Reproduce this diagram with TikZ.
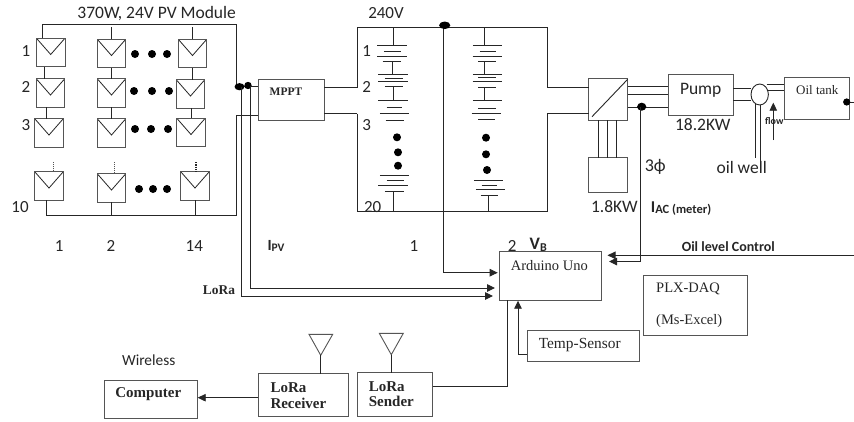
\documentclass[tikz,border=0pt]{standalone}
\usepackage{fontspec}
\setmainfont{Carlito}
\newfontfamily\srf{Liberation Serif}
\usetikzlibrary{arrows.meta,shapes.geometric}
\definecolor{ink}{HTML}{262626}
\definecolor{edge}{HTML}{555555}
\newcommand{\fs}[1]{\fontsize{#1}{#1}\selectfont}
\tikzset{
  wire/.style={draw=ink,line width=0.9pt},
  arr/.style={wire,-{Triangle[length=8pt,width=7.5pt]}},
  boxn/.style={draw=edge,line width=0.9pt,fill=white,inner sep=0pt,outer sep=0pt},
  module/.style={draw=edge,line width=0.8pt,inner sep=0pt,outer sep=0pt,minimum width=28.5pt,minimum height=28.5pt,
    path picture={\draw[draw=ink,line width=0.8pt] (path picture bounding box.north west) -- ([yshift=-2pt]path picture bounding box.center) -- (path picture bounding box.north east);}},
  lab/.style={text=ink,font=\fs{17.5},inner sep=0pt},
  lbl/.style={text=ink,font=\fs{17},inner sep=0pt},
  srfb/.style={text=ink,font=\srf\bfseries\fs{15},inner sep=0pt},
  srfn/.style={text=ink,font=\srf\fs{14.5},inner sep=0pt},
  bd/.style={text=ink,font=\bfseries\fs{14},inner sep=0pt},
  bigdot/.style={fill=black,draw=none},
}
\newcommand{\pl}[3]{\draw[wire] (#2,#1) -- (#3,#1);}
\newcommand{\st}[3]{\draw[wire] (#1,#2) -- (#1,#3);}
\newcommand{\dt}[2]{\fill[bigdot] (#1,#2) circle [radius=4pt];}
\begin{document}
\begin{tikzpicture}[x=1pt,y=-1pt]
\useasboundingbox (0,0) rectangle (854,421);
\fill[white] (0,0) rectangle (854,421);
% PV modules
\node[module] (m11) at (50.7,52.5) {};
\node[module] (m21) at (50.5,93) {};
\node[module] (m31) at (49,133) {};
\node[module] (m41) at (49,186) {};
\node[module] (m12) at (111.5,53.5) {};
\node[module] (m22) at (111.5,93) {};
\node[module] (m32) at (111.5,133) {};
\node[module] (m42) at (111.5,188) {};
\node[module] (m13) at (192.5,53.5) {};
\node[module] (m23) at (190.5,94) {};
\node[module] (m33) at (191,132.5) {};
\node[module] (m43) at (195,186) {};
% PV wiring
\coordinate (tl) at (42,24.5);
\coordinate (tr) at (236,24.5);
\coordinate (br) at (236,215);
\coordinate (bl) at (46,215);
\coordinate (jA) at (239.5,86.7);
\coordinate (jB) at (248,85.5);
\coordinate (pvlow) at (236,115);
\draw[wire] (tl |- m11.north) -- (tl) -- (tr) -- (tr |- jA) -- (jA);
\draw[wire] (pvlow) -- (br) -- (bl) -- (bl |- m41.south);
\draw[wire] (m12.north) -- ++(0,-12);
\draw[wire] (m13.north) -- ++(0,-12);
\draw[wire] ([xshift=-6pt]m11.south) -- ([xshift=-6pt]m11.south |- m21.north);
\draw[wire] ([xshift=-4.5pt]m21.south) -- ([xshift=-4.5pt]m21.south |- m31.north);
\draw[wire] (m12.south) -- (m22.north) (m22.south) -- (m32.north);
\draw[wire] (m13.south) -- (m13.south |- m23.north);
\draw[wire] (m23.south) ++(1.2,0) -- ++(0,10);
\draw[wire] (m42.south) -- (m42.south |- br);
\draw[wire] (m43.south) -- (m43.south |- br);
\draw[edge,line width=0.9pt,densely dotted] (53,162) -- (53,171);
\draw[edge,line width=0.9pt,densely dotted] (114,162) -- (114,172);
\draw[ink,line width=1.3pt,densely dotted] (196,162) -- (196,172);
\foreach \x/\y in {135/54,152/54,167/54,134/91,152/91,169/91,135/129,151/129,168/129,139/189,153/189,167/189}{\dt{\x}{\y}}
% Row and column labels
\node[lbl] (r1) at (26,50.7) {1};
\node[lbl] (r2) at (26,87.3) {2};
\node[lbl] (r3) at (26,124.7) {3};
\node[lbl] (r10) at (20,206.7) {10};
\node[lbl] (c1) at (59.3,246) {1};
\node[lbl] (c2) at (111,246) {2};
\node[lbl] (c14) at (194.3,246) {14};
\node[lab] (title) at (156.7,13.3) {370W, 24V PV Module};
% MPPT
\node[boxn,minimum width=66pt,minimum height=41pt] (mppt) at (291,99.5) {};
\node[srfb,font=\srf\bfseries\fs{11.5}] (mpptt) at (286,92) {MPPT};
\draw[wire] (jA) -- (mppt.west |- jA);
\draw[wire] (pvlow) -- (mppt.west |- pvlow);
\fill[bigdot] (jA) ellipse [x radius=5pt,y radius=3.6pt];
\fill[bigdot] (jB) circle [radius=3.7pt];
% Battery bank
\coordinate (btl) at (357.3,27.3);
\coordinate (btr) at (547.3,27.3);
\coordinate (bbl) at (357.3,211);
\coordinate (bbr) at (547.3,211);
\coordinate (jT) at (444.7,25.3);
\coordinate (upL) at (357.3,87.7);
\coordinate (loL) at (357.3,113.7);
\coordinate (upR) at (547.3,87.7);
\coordinate (loR) at (547.3,113.7);
\draw[wire] (upL) -- (btl) -- (btr) -- (upR);
\draw[wire] (loL) -- (bbl) -- (bbr) -- (loR);
\draw[wire] (mppt.east |- upL) -- (upL);
\draw[wire] (mppt.east |- loL) -- (loL);
\begin{scope}[x=0.33333pt,y=-0.33333pt,shift={(690,0)}]
\st{490}{82}{137}
\pl{137}{442}{530}\pl{153}{462}{512}\pl{168}{442}{530}\pl{183}{458}{512}
\st{487}{183}{222}
\pl{222}{445}{533}\pl{235}{465}{518}\pl{245}{445}{533}\pl{260}{465}{520}
\st{490}{260}{302}
\pl{302}{445}{533}\pl{322}{470}{515}\pl{341}{450}{537}\pl{361}{467}{522}
\pl{525}{450}{537}\pl{542}{470}{522}\pl{557}{445}{533}\pl{575}{465}{522}
\st{491}{575}{637}
\st{762}{82}{137}
\pl{137}{729}{815}\pl{153}{749}{797}\pl{168}{728}{815}\pl{183}{745}{797}
\st{762}{183}{224}
\pl{224}{729}{815}\pl{233}{745}{797}\pl{243}{728}{815}\pl{262}{745}{797}
\st{762}{262}{302}
\pl{302}{729}{815}\pl{325}{745}{797}\pl{341}{725}{813}\pl{357}{745}{795}
\pl{541}{732}{818}\pl{555}{755}{802}\pl{568}{738}{826}\pl{585}{752}{805}
\st{775}{585}{633}
\end{scope}
\foreach \x/\y in {397/137.3,398/152.3,398/165.7,486/137.7,486/154.3,487/170}{\dt{\x}{\y}}
\node[lbl] (v240) at (386,13.3) {240V};
\node[lbl] (b1) at (366.7,50.7) {1};
\node[lbl] (b2) at (366.7,87.3) {2};
\node[lbl] (b3) at (366.7,124.7) {3};
\node[lbl] (b20) at (372.7,206.7) {20};
\node[lbl] (s1) at (414,246) {1};
\node[lbl] (s2) at (512.3,245.7) {2};
\node[bd,font=\bfseries\fs{17.5}] (vb) at (538.3,245) {V\kern0.2pt\raisebox{-1.5pt}{\fs{12}B}};
\node[bd,font=\bfseries\fs{15.5}] (ipv) at (276,246) {I\raisebox{-1.5pt}{\fs{11.5}PV}};
% Converter and pump
\node[boxn,minimum width=39pt,minimum height=41.3pt] (conv) at (608.2,99.4) {};
\draw[wire] (conv.north east) ++(0,0.5) -- (592,116.7);
\draw[wire] (upR) -- (conv.west |- upR);
\draw[wire] (loR) -- (conv.west |- loR);
\node[boxn,minimum width=65pt,minimum height=41.4pt] (pump) at (700.8,95) {};
\node[lab] (pumpt) at (700.7,90) {Pump};
\node[lab] (kw18) at (702.7,124.3) {18.2KW};
\coordinate (ph1) at (627.7,86.7);
\coordinate (ph2) at (627.7,94.3);
\coordinate (ph3) at (627.7,107.3);
\coordinate (jAC) at (641.7,106.7);
\draw[wire] (ph1) -- (pump.west |- ph1);
\draw[wire] (ph2) -- (pump.west |- ph2);
\draw[wire] (ph3) -- (pump.west |- ph3);
\fill[bigdot] (jAC) ellipse [x radius=4.6pt,y radius=4pt];
% Small load
\node[boxn,minimum width=39pt,minimum height=35pt] (load) at (608.2,175.2) {};
\draw[wire] (598.3,120) -- (598.3,157.7);
\draw[wire] (607.3,120) -- (607.3,157.7);
\draw[wire] (616,120) -- (616,157.7);
\node[lab] (kw1) at (614.3,206.7) {1.8KW};
\node[lab,font=\fs{18}] (ph) at (655.3,167.3) {3ϕ};
\node[bd,font=\bfseries\fs{16.5},anchor=base west] (iac) at (650.7,212) {I\raisebox{-1.5pt}{\fs{12.5}AC (meter)}};
% Well and tank
\node[draw=ink,line width=0.9pt,fill=white,ellipse,inner sep=0pt,outer sep=0pt,minimum width=17.4pt,minimum height=21pt] (well) at (759.7,94.5) {};
\node[boxn,minimum width=65pt,minimum height=41.3pt] (tank) at (816.8,98.3) {};
\node[srfb,font=\srf\fs{13}] (tankt) at (817.3,90.3) {Oil tank};
\coordinate (p1) at (733.3,88.7);
\coordinate (p2) at (733.3,100.7);
\draw[wire] (p1) -- (750.6,88.7);
\draw[wire] (p2) -- (751,100.7);
\draw[wire] (766.7,84.7) -- (tank.west |- 0,84.7);
\draw[wire] (766.7,90.7) -- (tank.west |- 0,90.7);
\draw[wire] (755.3,104) -- (755.3,158);
\draw[wire] (760.7,105) -- (760.7,163);
\node[lab] (well2) at (741.7,167.3) {oil well};
\coordinate (fl1) at (773.3,140);
\coordinate (fl2) at (773.3,102.7);
\draw[arr] (fl1) -- (fl2);
\node[bd,font=\bfseries\fs{10},text=ink] (flow) at (774.3,121.3) {flow};
\coordinate (jTank) at (846.7,102);
\coordinate (tankR) at (854,102);
\draw[wire] (jTank) -- (tankR);
\fill[bigdot] (jTank) circle [radius=3.6pt];
% Arduino
\node[boxn,minimum width=102.4pt,minimum height=48.3pt] (ard) at (550.5,275.8) {};
\node[srfn] (ardt) at (549.3,265.3) {Arduino Uno};
\node[boxn,minimum width=103.6pt,minimum height=60.3pt] (plx) at (695.5,305.2) {};
\node[srfn,anchor=west] (plx1) at (656,289) {PLX-DAQ};
\node[srfn,anchor=west] (plx2) at (656,321.3) {(Ms-Excel)};
\node[boxn,minimum width=112pt,minimum height=30.6pt] (temp) at (583.3,346) {};
\node[srfn,font=\srf\fs{15.4}] (tempt) at (579.7,344.7) {Temp-Sensor};
% Signals into Arduino
\coordinate (a1) at (241.5,296);
\coordinate (a2) at (250.5,288);
\coordinate (a3) at (443.7,272.7);
\draw[arr] (jA -| a1) -- (a1) -- (493,296);
\draw[arr] (jB -| a2) -- (a2) -- (495,288);
\draw[arr] (jT -| a3) -- (a3) -- (497.7,272.7);
\fill[bigdot] (jT) ellipse [x radius=5.6pt,y radius=3.8pt];
\coordinate (acB) at (640.7,261.5);
\draw[arr] (640.7,106.7) -- (acB) -- (609,261.5);
\coordinate (olR) at (854,255.3);
\draw[arr] (olR) -- (607.5,255.3);
\node[bd] (oil) at (728.3,246.7) {Oil level Control};
\coordinate (tc) at (518,354);
\draw[arr] (temp.west |- tc) -- (tc) -- (518,300.7);
\node[srfb,font=\srf\bfseries\fs{13.4}] (lora) at (219,290) {LoRa};
% Bottom row
\node[boxn,minimum width=93.4pt,minimum height=38.4pt] (comp) at (151,399.5) {};
\node[srfb] (compt) at (148.3,394) {Computer};
\node[boxn,minimum width=90pt,minimum height=42.6pt] (recv) at (303.3,395) {};
\node[srfb,anchor=west] (recv1) at (270.3,387.7) {LoRa};
\node[srfb,anchor=west] (recv2) at (270.3,403) {Receiver};
\node[boxn,minimum width=75.4pt,minimum height=43.6pt] (send) at (395,394.5) {};
\node[srfb,anchor=west] (send1) at (368.7,386.3) {LoRa};
\node[srfb,anchor=west] (send2) at (368.7,401.7) {Sender};
\coordinate (rx) at (258.3,397.7);
\draw[arr] (rx) -- (comp.east |- rx);
\node[text=ink,font=\fs{15.4},inner sep=0pt] (wl) at (148.7,360) {Wireless};
\coordinate (sc) at (507.3,386.7);
\draw[wire] (send.east |- sc) -- (sc) -- (507.3,300);
% Antennas
\coordinate (ra) at (320.7,355.3);
\coordinate (sa) at (391.3,354.7);
\draw[edge,line width=0.9pt] (309,334.3) -- (332.7,334.3) -- (ra) -- cycle;
\draw[wire] (ra) -- (ra |- recv.north);
\draw[edge,line width=0.9pt] (379.3,333.3) -- (403.3,333.3) -- (sa) -- cycle;
\draw[wire] (sa) -- (sa |- send.north);
\end{tikzpicture}
\end{document}
